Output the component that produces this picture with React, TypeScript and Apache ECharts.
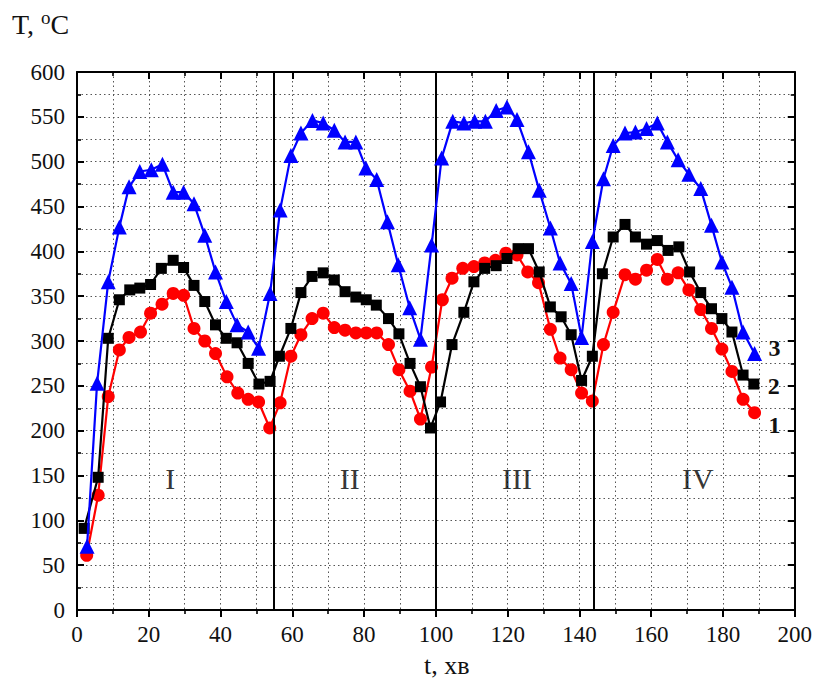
import React, { useEffect, useRef } from "react";
import * as echarts from "echarts";

const series1Red: [number, number][] = [[2.7,61],[5.9,128],[8.7,238],[11.8,290],[14.5,304],[17.7,310],[20.5,331],[23.7,341],[26.8,353],[29.7,351],[32.6,314],[35.6,300],[38.6,286],[41.8,260],[44.8,242],[47.7,235],[50.6,232],[53.7,203],[56.6,231],[59.6,283],[62.4,307],[65.5,325],[68.6,331],[71.7,315],[74.7,312],[77.7,309],[80.6,309],[83.5,309],[86.8,296],[89.7,268],[92.8,244],[95.7,213],[98.8,271],[101.8,346],[104.5,370],[107.5,381],[110.6,383],[113.6,387],[116.6,390],[119.5,398],[122.6,396],[125.6,377],[128.6,365],[131.9,313],[134.6,281],[137.7,268],[140.6,242],[143.6,233],[146.7,296],[149.4,332],[152.7,374],[155.6,369],[158.7,379],[161.7,391],[164.5,369],[167.5,376],[170.5,357],[173.8,335],[176.8,314],[179.7,291],[182.5,266],[185.6,235],[188.8,220]];

const series2Black: [number, number][] = [[2.0,91],[5.9,148],[8.7,303],[11.8,346],[14.7,357],[17.5,359],[20.5,363],[23.5,381],[26.8,390],[29.7,382],[32.6,362],[35.6,344],[38.6,318],[41.6,303],[44.6,298],[47.7,275],[50.7,252],[53.8,255],[56.4,283],[59.6,314],[62.4,354],[65.5,372],[68.6,376],[71.7,368],[74.7,355],[77.7,349],[80.6,346],[83.4,340],[86.8,325],[89.7,308],[92.8,275],[95.7,249],[98.5,203],[101.3,232],[104.5,296],[107.8,332],[110.6,366],[113.6,381],[116.8,384],[119.8,392],[122.9,403],[125.8,403],[128.8,377],[131.9,338],[134.9,327],[137.7,307],[140.6,256],[143.6,283],[146.4,375],[149.4,416],[152.7,430],[155.6,416],[158.7,408],[161.7,412],[164.7,401],[167.7,405],[170.7,377],[173.8,354],[176.8,336],[179.7,325],[182.5,310],[185.6,262],[188.6,252]];

const series3Blue: [number, number][] = [[2.8,71],[5.6,253],[8.7,366],[11.8,427],[14.5,472],[17.5,489],[20.7,491],[23.8,497],[26.8,466],[29.7,466],[32.6,453],[35.6,418],[38.6,377],[41.6,344],[44.6,318],[47.7,310],[50.6,292],[53.8,353],[56.6,446],[59.6,507],[62.4,532],[65.6,546],[68.6,543],[71.7,535],[74.7,522],[77.7,522],[80.5,493],[83.5,480],[86.5,433],[89.5,385],[92.7,337],[95.7,302],[98.8,407],[101.6,504],[104.7,545],[107.8,543],[110.8,545],[113.8,545],[116.8,557],[119.8,561],[122.6,547],[125.8,511],[128.8,468],[131.9,426],[134.6,387],[137.7,364],[140.6,304],[143.6,411],[146.7,481],[149.4,518],[152.7,532],[155.6,533],[158.7,537],[161.7,543],[164.5,522],[167.5,502],[170.5,486],[173.8,470],[176.8,429],[179.7,388],[182.5,360],[185.6,310],[188.8,286]];

const stageBoundaries = [54.7, 100, 144];
const stageLabels = ["I", "II", "III", "IV"];
const stageLabelX = [26, 76, 122.6, 173];
const stageLabelY = 147;

const xMin = 0, xMax = 200, xInterval = 20;
const yMin = 0, yMax = 600, yInterval = 50;

const FONT = "'Liberation Serif', 'Times New Roman', serif";

export default function App() {
  const ref = useRef<HTMLDivElement>(null);
  useEffect(() => {
    if (!ref.current) return;
    const chart = echarts.init(ref.current, undefined, { renderer: "svg" });
    const gridLine = { show: true, lineStyle: { color: "#555", type: [1.5, 3] as any, width: 1 } };
    const baseX = {
      type: "value" as const, min: xMin, max: xMax, interval: xInterval,
      axisLine: { show: true, onZero: false, lineStyle: { color: "#000", width: 2 } },
      minorTick: { show: true, splitNumber: 2, length: 4, lineStyle: { color: "#000", width: 1.6 } },
      axisTick: { show: true, length: 7, lineStyle: { color: "#000", width: 2 } },
    };
    const baseY = {
      type: "value" as const, min: yMin, max: yMax, interval: yInterval,
      axisLine: { show: true, onZero: false, lineStyle: { color: "#000", width: 2 } },
      minorTick: { show: true, splitNumber: 2, length: 4, lineStyle: { color: "#000", width: 1.6 } },
      axisTick: { show: true, inside: true, length: 7, lineStyle: { color: "#000", width: 2 } },
    };
    const endLabelBase = { show: true, fontFamily: FONT, fontWeight: "bold" as const, fontSize: 24, color: "#111", distance: 10 };
    chart.setOption({
      animation: false,
      backgroundColor: "#fff",
      grid: { left: 77, right: 18, top: 72, bottom: 83 },
      xAxis: [
        {
          ...baseX, position: "bottom",
          axisLabel: { fontFamily: FONT, fontSize: 23, color: "#111", margin: 13 },
          splitLine: gridLine, minorSplitLine: gridLine,
        },
        {
          ...baseX, position: "top", axisLabel: { show: false },
          axisTick: { ...baseX.axisTick, inside: true },
          splitLine: { show: false },
        },
      ],
      yAxis: [
        {
          ...baseY, position: "left",
          axisLabel: { fontFamily: FONT, fontSize: 23, color: "#111", margin: 12 },
          splitLine: gridLine, minorSplitLine: gridLine,
        },
        {
          ...baseY, position: "right", axisLabel: { show: false },
          splitLine: { show: false },
        },
      ],
      graphic: [
        {
          type: "text", left: 12, top: 8,
          style: {
            text: "T, {sup|o}C", font: `28px ${FONT}`, fill: "#111",
            rich: { sup: { fontSize: 19, fontFamily: FONT, verticalAlign: "top", padding: [0, 0, 14, 0], fill: "#111" } },
          },
        },
        { type: "text", left: 424, top: 652, style: { text: "t, хв", font: `26px ${FONT}`, fill: "#111" } },
      ],
      series: [
        {
          name: "1", type: "line", data: series1Red, symbol: "circle", symbolSize: 13,
          lineStyle: { color: "#ff0000", width: 2.2 }, itemStyle: { color: "#ff0000" },
          endLabel: { ...endLabelBase, formatter: "1", offset: [4, 12] },
          markLine: {
            silent: true, symbol: "none", label: { show: false },
            lineStyle: { color: "#000", width: 2, type: "solid" },
            data: stageBoundaries.map((x) => ({ xAxis: x })),
          },
          z: 3,
        },
        {
          name: "2", type: "line", data: series2Black, symbol: "rect", symbolSize: 11,
          lineStyle: { color: "#000", width: 2.2 }, itemStyle: { color: "#000" },
          endLabel: { ...endLabelBase, formatter: "2", offset: [4, 2] },
          z: 4,
        },
        {
          name: "3", type: "line", data: series3Blue, symbol: "triangle", symbolSize: 15,
          lineStyle: { color: "#0000ff", width: 2.2 }, itemStyle: { color: "#0000ff" },
          endLabel: { ...endLabelBase, formatter: "3", offset: [4, -6] },
          z: 5,
        },
        {
          name: "stages", type: "scatter", symbolSize: 0, silent: true,
          data: stageLabels.map((s, i) => ({ name: s, value: [stageLabelX[i], stageLabelY] })),
          label: { show: true, position: "inside", formatter: "{b}", fontFamily: FONT, fontSize: 30, color: "#000" },
          z: 2,
        },
      ],
    });
    return () => chart.dispose();
  }, []);
  return <div ref={ref} style={{ position: "absolute", left: 0, top: 0, width: 815, height: 693 }} />;
}
